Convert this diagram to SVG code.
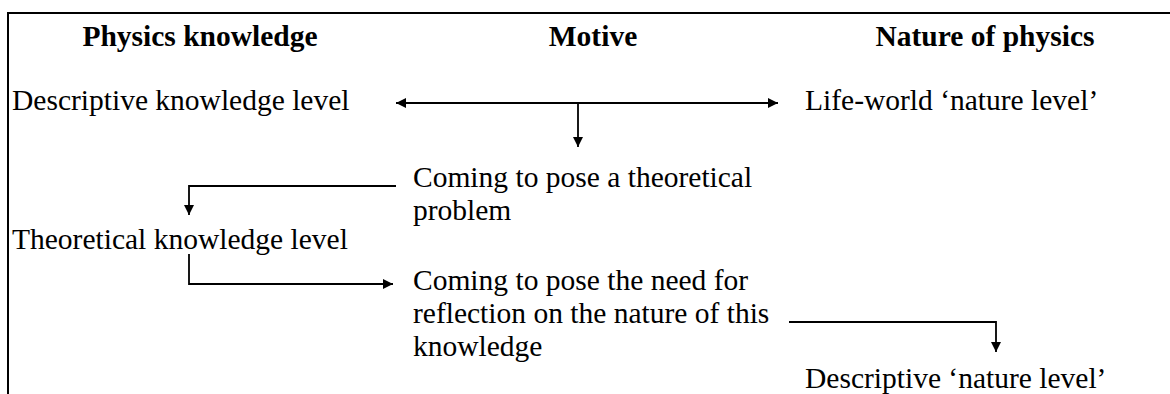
<svg xmlns="http://www.w3.org/2000/svg" width="1170" height="394" viewBox="0 0 1170 394">
<style>
text{font-family:"Liberation Serif","Times New Roman",serif;font-size:29.5px;fill:#000}
.h{font-weight:bold;text-anchor:middle}
.c{fill:none;stroke:#000;stroke-width:1.8}
.frame{fill:none;stroke:#000;stroke-width:2}
</style>
<defs>
<marker id="ah" viewBox="0 0 10 10" refX="10" refY="5" markerWidth="11" markerHeight="10" markerUnits="userSpaceOnUse" orient="auto-start-reverse">
<path d="M0,0 L10,5 L0,10 z" fill="#000"/>
</marker>
</defs>
<rect width="1170" height="394" fill="#fff"/>
<path class="frame" d="M8,394 V13 H1170"/>
<g id="headers">
<text class="h" x="200" y="46">Physics knowledge</text>
<text class="h" x="593" y="46">Motive</text>
<text class="h" x="985" y="46">Nature of physics</text>
</g>
<g id="descriptive-knowledge"><text x="12" y="110">Descriptive knowledge level</text></g>
<g id="life-world"><text x="805" y="110">Life-world ‘nature level’</text></g>
<g id="theoretical-problem"><text x="413" y="187">Coming to pose a theoretical</text><text x="413" y="220">problem</text></g>
<g id="theoretical-knowledge"><text x="12" y="249">Theoretical knowledge level</text></g>
<g id="reflection"><text x="413" y="290">Coming to pose the need for</text><text x="413" y="323">reflection on the nature of this</text><text x="413" y="356">knowledge</text></g>
<g id="descriptive-nature"><text x="805" y="388">Descriptive ‘nature level’</text></g>
<g id="connectors">
<path class="c" d="M396,103 H778" marker-start="url(#ah)" marker-end="url(#ah)"/>
<path class="c" d="M578,103 V147" marker-end="url(#ah)"/>
<path class="c" d="M396,186 H189 V215" marker-end="url(#ah)"/>
<path class="c" d="M189,254 V284 H393" marker-end="url(#ah)"/>
<path class="c" d="M789,322 H996 V352" marker-end="url(#ah)"/>
</g>
</svg>
